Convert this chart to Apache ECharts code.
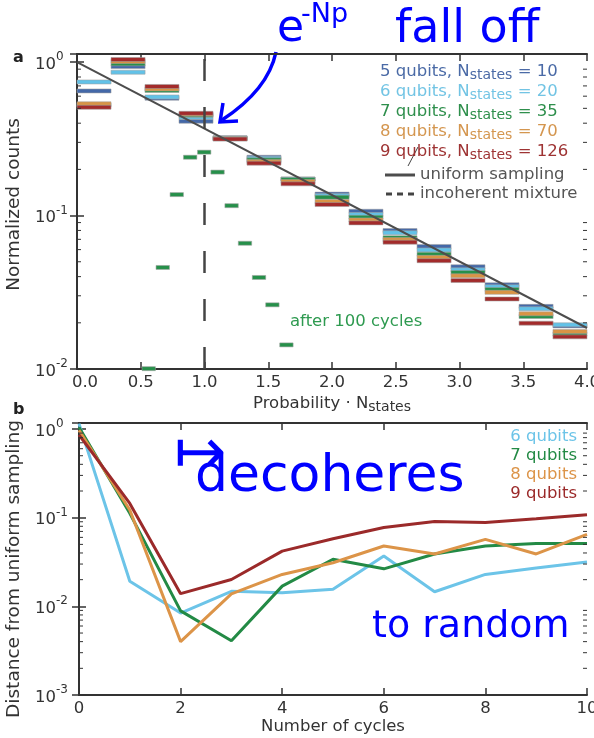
<!DOCTYPE html>
<html>
<head>
<meta charset="utf-8">
<title>Normalized counts / distance from uniform sampling</title>
<script src="https://cdn.jsdelivr.net/npm/echarts@6/dist/echarts.min.js"></script>
<style>
  html, body { margin: 0; padding: 0; background: #fff; }
  #chart { width: 594px; height: 738px; }
</style>
</head>
<body>
<div id="chart"></div>
<script type="text/javascript">
// ---- panel a: histogram of probability * N_states ----
var qubitNames = ['5 qubits', '6 qubits', '7 qubits', '8 qubits', '9 qubits'];
var nStates = [10, 20, 35, 70, 126];
var binStarts = [0, 0.267, 0.533, 0.8, 1.067, 1.333, 1.6, 1.867, 2.133, 2.4, 2.667, 2.933, 3.2, 3.467, 3.733];
var binWidth = 0.267;
var counts5 = [0.649, 0.937, 0.582, 0.412, 0.322, 0.240, 0.173, 0.138, 0.1067, 0.0798, 0.0629, 0.0464, 0.0354, 0.0256, 0.0191];
var counts6 = [0.743, 0.860, 0.593, 0.437, 0.320, 0.236, 0.173, 0.135, 0.1015, 0.0774, 0.0597, 0.0443, 0.0344, 0.0247, 0.0194];
var counts7 = [0.525, 0.975, 0.653, 0.450, 0.318, 0.231, 0.172, 0.1317, 0.0975, 0.0718, 0.0560, 0.0426, 0.0330, 0.0220, 0.01686];
var counts8 = [0.535, 1.010, 0.669, 0.457, 0.317, 0.2254, 0.167, 0.1235, 0.0937, 0.0697, 0.0534, 0.0405, 0.0316, 0.0229, 0.01754];
var counts9 = [0.508, 1.040, 0.694, 0.464, 0.315, 0.2197, 0.161, 0.118, 0.0896, 0.0671, 0.0508, 0.0378, 0.0286, 0.0199, 0.0162];
// 7 qubits after 100 cycles (narrow bins)
var after100Starts = [0.51, 0.62, 0.73, 0.835, 0.945, 1.05, 1.16, 1.265, 1.375, 1.48, 1.59];
var after100Width = 0.105;
var after100Counts = [0.01005, 0.0459, 0.137, 0.240, 0.259, 0.192, 0.116, 0.066, 0.0395, 0.0262, 0.01436];
// reference lines
var uniformX = [0, 4];
var uniformY = [1.0, 0.0185];
var mixtureX = 1;

// ---- panel b: distance from uniform sampling vs cycles ----
var cycles = [0, 1, 2, 3, 4, 5, 6, 7, 8, 9, 10];
var bNames = ['6 qubits', '7 qubits', '8 qubits', '9 qubits'];
var dist6 = [1.15, 0.0192, 0.0084, 0.0148, 0.0142, 0.0156, 0.037, 0.0146, 0.0229, 0.027, 0.0316];
var dist7 = [1.05, 0.112, 0.0089, 0.0041, 0.0169, 0.034, 0.0265, 0.039, 0.048, 0.051, 0.051];
var dist8 = [0.97, 0.122, 0.0040, 0.0138, 0.0229, 0.031, 0.048, 0.039, 0.057, 0.039, 0.065];
var dist9 = [0.86, 0.145, 0.0139, 0.0201, 0.042, 0.058, 0.0776, 0.0908, 0.0885, 0.097, 0.108];

var FONT = 'DejaVu Sans';
var barColors = ['#4468a8', '#62c2e8', '#26904a', '#d99445', '#a32b2b'];
var textColors = ['#4a6aa6', '#72c4e4', '#2e8f4c', '#d4964f', '#9e3333'];
var lineColors = ['#6cc4e8', '#238a45', '#dc9448', '#9b2a2a'];
var AX = '#333';

var chart = echarts.init(document.getElementById('chart'));

function stepSeries(name, starts, width, values, color) {
  return {
    name: name, type: 'custom', xAxisIndex: 0, yAxisIndex: 0,
    data: values.map(function (v, i) { return [starts[i], starts[i] + width, v]; }),
    encode: { x: [0, 1], y: 2 },
    renderItem: function (params, api) {
      var a = api.coord([api.value(0), api.value(2)]);
      var b = api.coord([api.value(1), api.value(2)]);
      return {
        type: 'rect',
        shape: { x: a[0], y: a[1] - 2, width: b[0] - a[0], height: 4 },
        style: { fill: color, stroke: 'rgba(160,160,160,0.55)', lineWidth: 1 }
      };
    }
  };
}

function minorTicks(idx, xMin, yMax, decades) {
  var vals = [];
  decades.forEach(function (d) {
    for (var k = 2; k <= 9; k++) { if (k * d < yMax) vals.push([xMin, k * d]); }
  });
  return {
    type: 'custom', xAxisIndex: idx, yAxisIndex: idx, silent: true, z: 5,
    data: vals,
    renderItem: function (params, api) {
      var cs = params.coordSys;
      var y = api.coord([api.value(0), api.value(1)])[1];
      return { type: 'group', children: [
        { type: 'line', shape: { x1: cs.x, y1: y, x2: cs.x + 4, y2: y }, style: { stroke: AX, lineWidth: 1 } },
        { type: 'line', shape: { x1: cs.x + cs.width, y1: y, x2: cs.x + cs.width - 4, y2: y }, style: { stroke: AX, lineWidth: 1 } }
      ] };
    }
  };
}

function powLabel(v) {
  var l = Math.log10(v), e = Math.round(l);
  if (Math.abs(l - e) > 1e-6) return '';
  return '{b|10}{s|' + (e < 0 ? '-' + (-e) : e) + '}';
}

var labelRich = {
  b: { fontFamily: FONT, fontSize: 16.5, color: AX, lineHeight: 22, verticalAlign: 'bottom' },
  s: { fontFamily: FONT, fontSize: 12, color: AX, lineHeight: 22, verticalAlign: 'top' }
};

function xAxisOpt(grid, pos, min, max, interval, showLabel, name, nameGap, fmt) {
  return {
    gridIndex: grid, type: 'value', position: pos, min: min, max: max, interval: interval,
    axisLine: { show: true, onZero: false, lineStyle: { color: AX, width: 2 } },
    axisTick: { show: true, inside: true, length: 7, lineStyle: { color: AX, width: 1.5 } },
    axisLabel: { show: showLabel, margin: 5, fontFamily: FONT, fontSize: 16.5, color: AX, formatter: fmt,
      rich: { z: { fontFamily: FONT, fontSize: 16.5, color: AX, padding: [0, 0, 0, 16] } } },
    splitLine: { show: false },
    name: name, nameLocation: 'middle', nameGap: nameGap,
    nameTextStyle: { fontFamily: FONT, fontSize: 16.5, color: AX,
      rich: { t: { fontFamily: FONT, fontSize: 16.5, color: AX, lineHeight: 20, verticalAlign: 'middle' },
              s: { fontFamily: FONT, fontSize: 14, color: AX, lineHeight: 20, verticalAlign: 'bottom' } } }
  };
}

function yAxisOpt(grid, pos, min, max, showLabel, name, nameGap, margin, namePad) {
  return {
    gridIndex: grid, type: 'log', logBase: 10, position: pos, min: min, max: max,
    axisLine: { show: true, lineStyle: { color: AX, width: 2 } },
    axisTick: { show: true, inside: true, length: 7, lineStyle: { color: AX, width: 1.5 } },
    axisLabel: { show: showLabel, align: 'left', margin: margin, formatter: powLabel, rich: labelRich, showMaxLabel: false },
    splitLine: { show: false },
    minorTick: { show: false },
    name: name, nameLocation: 'middle', nameGap: nameGap,
    nameTextStyle: { fontFamily: FONT, fontSize: 18.5, color: AX, padding: namePad || 0 }
  };
}

var series = [];
var countSets = [counts5, counts6, counts7, counts8, counts9];
countSets.forEach(function (c, i) {
  series.push(stepSeries(qubitNames[i], binStarts, binWidth, c, barColors[i]));
});
series.push(stepSeries('after 100 cycles', after100Starts, after100Width, after100Counts, barColors[2]));
series.push({
  name: 'uniform sampling', type: 'line', xAxisIndex: 0, yAxisIndex: 0, symbol: 'none', z: 3,
  data: [[uniformX[0], uniformY[0]], [uniformX[1], uniformY[1]]],
  lineStyle: { color: '#4d4d4d', width: 2 }, itemStyle: { color: '#4d4d4d' }
});
series.push({
  name: 'incoherent mixture', type: 'line', xAxisIndex: 0, yAxisIndex: 0, symbol: 'none', z: 4,
  data: [[mixtureX, 0.01], [mixtureX, 1.13]],
  lineStyle: { color: '#444', width: 2.5, type: [22, 26] }, itemStyle: { color: '#444' }
});
series.push(minorTicks(0, 0, 1.13, [0.01, 0.1]));

var distSets = [dist6, dist7, dist8, dist9];
distSets.forEach(function (d, i) {
  series.push({
    name: bNames[i], type: 'line', xAxisIndex: 2, yAxisIndex: 2, symbol: 'none', z: 3 + i * 0.1,
    data: cycles.map(function (c, j) { return [c, d[j]]; }),
    lineStyle: { color: lineColors[i], width: 3 }, itemStyle: { color: lineColors[i] }
  });
});
series.push(minorTicks(2, 0, 1.17, [0.001, 0.01, 0.1]));

// legend rich styles
var topRich = {};
textColors.forEach(function (c, i) {
  topRich['t' + i] = { fontFamily: FONT, fontSize: 16.5, color: c, lineHeight: 20, verticalAlign: 'middle' };
  topRich['s' + i] = { fontFamily: FONT, fontSize: 14, color: c, lineHeight: 20, verticalAlign: 'bottom' };
});

var option = {
  animation: false,
  backgroundColor: '#fff',
  textStyle: { fontFamily: FONT },
  grid: [
    { left: 77, right: 7, top: 54, height: 315, outerBoundsMode: 'none', containLabel: false },
    { left: 79, right: 7, top: 423, height: 272, outerBoundsMode: 'none', containLabel: false }
  ],
  xAxis: [
    xAxisOpt(0, 'bottom', 0, 4, 0.5, true, 'Probability · N{s|states}', 25,
      function (v) { return v === 0 ? '{z|0.0}' : v.toFixed(1); }),
    xAxisOpt(0, 'top', 0, 4, 0.5, false, '', 0),
    xAxisOpt(1, 'bottom', 0, 10, 2, true, 'Number of cycles', 18, function (v) { return String(v); }),
    xAxisOpt(1, 'top', 0, 10, 2, false, '', 0)
  ],
  yAxis: [
    yAxisOpt(0, 'left', 0.01, 1.13, true, 'Normalized counts', 47, 42, [0, 0, 0, 14]),
    yAxisOpt(0, 'right', 0.01, 1.13, false, '', 0, 0),
    yAxisOpt(1, 'left', 0.001, 1.17, true, 'Distance from uniform sampling', 49, 44, [0, 20, 0, 0]),
    yAxisOpt(1, 'right', 0.001, 1.17, false, '', 0, 0)
  ],
  legend: [
    {
      data: qubitNames, orient: 'vertical', left: 375, top: 62, padding: 0, itemGap: 0,
      itemWidth: 0, itemHeight: 0, icon: 'none', selectedMode: false,
      formatter: function (name) {
        var i = qubitNames.indexOf(name);
        return '{t' + i + '|' + name + ', N}{s' + i + '|states}{t' + i + '| = ' + nStates[i] + '}';
      },
      textStyle: { fontFamily: FONT, fontSize: 16.5, lineHeight: 20, rich: topRich }
    },
    {
      data: [
        { name: 'uniform sampling', icon: 'path://M0,0h30v3h-30z' },
        { name: 'incoherent mixture', icon: 'path://M0,0h6v3h-6z M11,0h6v3h-6z M22,0h6v3h-6z' }
      ],
      orient: 'vertical', left: 385, top: 166, padding: 0, itemGap: 1, itemWidth: 30, itemHeight: 3,
      selectedMode: false,
      textStyle: { fontFamily: FONT, fontSize: 16.5, color: '#555', lineHeight: 18 }
    },
    {
      data: bNames.map(function (n, i) { return { name: n, textStyle: { color: lineColors[i] } }; }),
      orient: 'vertical', right: 12, top: 427, padding: 0, itemGap: 0, align: 'right',
      itemWidth: 0, itemHeight: 0, icon: 'none', selectedMode: false,
      textStyle: { fontFamily: FONT, fontSize: 16.5, lineHeight: 19 }
    }
  ],
  graphic: [
    { type: 'text', x: 13, y: 50, style: { text: 'a', font: 'bold 16px "DejaVu Sans"', fill: '#222' } },
    { type: 'text', x: 13, y: 402, style: { text: 'b', font: 'bold 16px "DejaVu Sans"', fill: '#222' } },
    { type: 'text', x: 290, y: 313, style: { text: 'after 100 cycles', font: '16.5px "DejaVu Sans"', fill: '#2e9a50' } },
    // hand-written notes
    { type: 'text', x: 277, y: 8, style: { text: 'e', font: '44px "DejaVu Sans"', fill: '#0000ff' } },
    { type: 'text', x: 301, y: 1, style: { text: '-Np', font: '27px "DejaVu Sans"', fill: '#0000ff' } },
    { type: 'text', x: 395, y: 7, style: { text: 'fall off', font: '46px "DejaVu Sans"', fill: '#0000ff' } },
    { type: 'bezierCurve', shape: { x1: 276, y1: 52, cpx1: 268, cpy1: 90, x2: 222, y2: 120 },
      style: { stroke: '#0000ff', lineWidth: 3.5, fill: null } },
    { type: 'polyline', shape: { points: [[223, 103], [220, 122], [238, 121]] },
      style: { stroke: '#0000ff', lineWidth: 3.5, fill: null } },
    { type: 'line', shape: { x1: 418, y1: 147, x2: 408, y2: 166 }, style: { stroke: '#444', lineWidth: 1 } },
    { type: 'text', x: 174, y: 425, style: { text: '↦', font: '62px "DejaVu Sans"', fill: '#0000ff' } },
    { type: 'text', x: 195, y: 451, style: { text: 'decoheres', font: '52px "DejaVu Sans"', fill: '#0000ff' } },
    { type: 'text', x: 372, y: 608, style: { text: 'to random', font: '38px "DejaVu Sans"', fill: '#0000ff' } }
  ],
  series: series
};

chart.setOption(option);
</script>
</body>
</html>
